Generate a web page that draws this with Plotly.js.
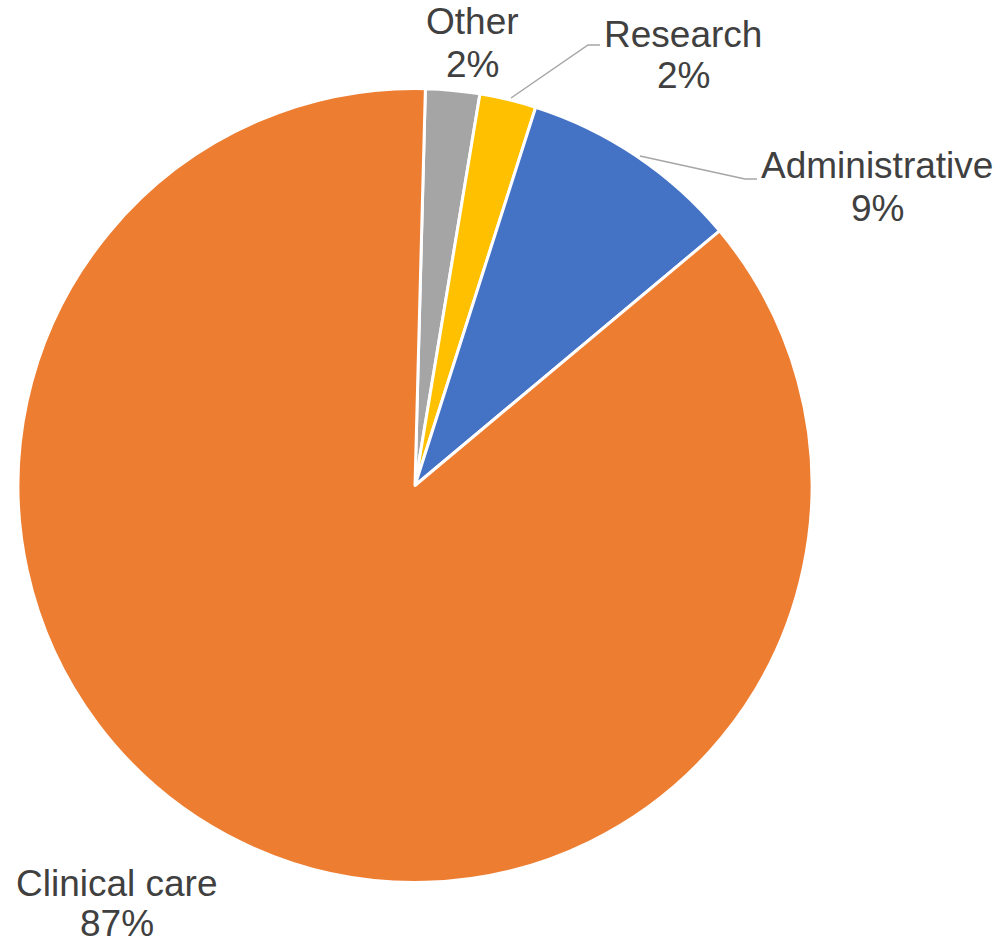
<!DOCTYPE html>
<html>
<head>
<meta charset="utf-8">
<script src="https://cdn.plot.ly/plotly-3.0.1.min.js"></script>
<style>html,body{margin:0;padding:0;background:#fff;}#chart{width:1004px;height:945px;}</style>
</head>
<body>
<div id="chart"></div>
<script>
// Data (order as drawn clockwise from 12 o'clock)
const categories = ["Other", "Research", "Administrative", "Clinical care"];
const shares = [2.2, 2.3, 9.0, 86.5];
const colors = ["#A5A5A5", "#FFC000", "#4472C4", "#ED7D31"];

const W = 1004, H = 945;
const X = px => px / W;
const Y = py => 1 - py / H;

const cx = 415, cy = 485.5, R = 397;
const total = shares.reduce((a, b) => a + b, 0);
const pct = v => Math.round(v / total * 100 + 1e-9) + "%";

// label placement: [centre x, name line centre y, percent line centre y]
const labelPos = {
  "Other": [472, 22, 64],
  "Research": [683, 34, 76],
  "Administrative": [877, 165, 208],
  "Clinical care": [117, 883, 923]
};

const FS = 37;
const font = {family: "Liberation Sans, Arial, sans-serif", size: FS, color: "#404040"};
const annotations = [];
categories.forEach((c, i) => {
  const p = labelPos[c];
  annotations.push({xref: "paper", yref: "paper", x: X(p[0]), y: Y(p[1]), text: c, showarrow: false, xanchor: "center", yanchor: "middle", font: font});
  annotations.push({xref: "paper", yref: "paper", x: X(p[0]), y: Y(p[2]), text: pct(shares[i]), showarrow: false, xanchor: "center", yanchor: "middle", font: font});
});

const leader = (pts) => ({
  type: "path", xref: "paper", yref: "paper",
  path: pts.map((q, k) => (k ? "L" : "M") + X(q[0]) + "," + Y(q[1])).join(" "),
  line: {color: "#A6A6A6", width: 1.5}
});
const shapes = [
  leader([[511, 98], [588, 45], [600, 45]]),
  leader([[640, 156], [745, 179], [757, 179]])
];

const trace = {
  type: "pie",
  labels: categories,
  values: shares,
  sort: false,
  direction: "clockwise",
  rotation: 1.5,
  textinfo: "none",
  hoverinfo: "label+percent",
  marker: {colors: colors, line: {color: "#FFFFFF", width: 3}},
  domain: {x: [X(cx - R), X(cx + R)], y: [Y(cy + R), Y(cy - R)]},
  showlegend: false
};

const layout = {
  width: W, height: H,
  margin: {l: 0, r: 0, t: 0, b: 0},
  paper_bgcolor: "#FFFFFF",
  showlegend: false,
  annotations: annotations,
  shapes: shapes
};

Plotly.newPlot("chart", [trace], layout, {displayModeBar: false, staticPlot: true});
</script>
</body>
</html>
